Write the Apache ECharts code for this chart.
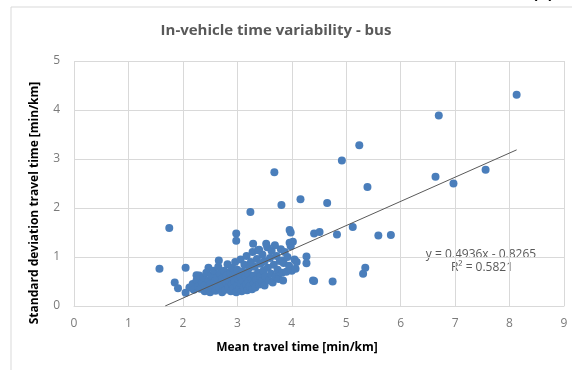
<!DOCTYPE html>
<html>
<head>
<meta charset="utf-8">
<script src="https://cdn.jsdelivr.net/npm/echarts@6/dist/echarts.min.js"></script>
<style>
  html, body { margin: 0; padding: 0; background: #fff; }
  #chart { width: 572px; height: 370px; }
</style>
</head>
<body>
<div id="chart"></div>
<script>
// mean travel time [min/km] vs standard deviation [min/km]

// scattered points left of the main cloud
var lowPoints = [
    [1.57, 0.76], [1.75, 1.59], [1.85, 0.48], [1.91, 0.36], [2.05, 0.27], [2.05, 0.78],
    [2.25, 0.63], [2.47, 0.78], [2.66, 0.93], [2.82, 0.85]
];

// main cloud (x 2.1 - 4.1)
var clusterPoints = [
    [2.12, 0.38], [2.18, 0.45], [2.20, 0.33], [2.25, 0.52], [2.28, 0.40], [2.30, 0.62],
    [2.32, 0.35], [2.35, 0.48], [2.38, 0.58], [2.40, 0.30], [2.40, 0.42],
    [2.43, 0.68], [2.45, 0.36], [2.47, 0.52], [2.50, 0.28], [2.50, 0.45], [2.52, 0.62],
    [2.55, 0.38], [2.57, 0.72], [2.58, 0.50], [2.60, 0.31], [2.62, 0.44], [2.63, 0.58],
    [2.65, 0.80], [2.67, 0.36], [2.68, 0.66], [2.70, 0.48],
    [2.72, 0.28], [2.73, 0.56], [2.75, 0.40], [2.76, 0.72], [2.78, 0.33], [2.80, 0.62],
    [2.80, 0.46], [2.84, 0.38], [2.85, 0.52], [2.87, 0.68], [2.88, 0.30], [2.90, 0.44],
    [2.90, 0.78], [2.92, 0.58], [2.93, 0.36], [2.95, 0.50], [2.96, 0.90], [2.97, 0.66],
    [2.98, 0.28], [3.00, 0.42], [3.00, 0.74],
    [3.02, 0.55], [3.03, 0.34], [3.05, 0.62], [3.06, 0.95], [3.07, 0.46], [3.08, 0.30],
    [3.10, 0.70], [3.10, 0.52], [3.12, 0.38], [3.13, 0.84], [3.15, 0.60], [3.16, 0.44],
    [3.17, 1.02], [3.18, 0.32], [3.20, 0.66], [3.20, 0.50], [3.22, 0.78], [3.23, 0.40],
    [3.25, 0.90], [3.26, 0.56], [3.27, 0.34], [3.28, 1.10], [3.30, 0.62], [3.30, 0.46],
    [3.32, 0.80], [3.33, 0.38], [3.35, 0.54], [3.36, 0.96], [3.38, 0.68], [3.40, 0.44],
    [3.40, 1.15], [3.42, 0.60], [3.43, 0.86], [3.45, 0.50], [3.46, 1.05], [3.48, 0.72],
    [3.50, 0.42], [3.50, 0.92], [3.52, 0.60], [3.55, 1.20], [3.56, 0.78], [3.58, 0.52],
    [3.60, 0.98], [3.62, 0.66], [3.63, 1.12], [3.65, 0.48], [3.67, 0.84], [3.70, 0.60],
    [3.72, 1.02], [3.74, 0.74], [3.76, 0.55], [3.78, 0.92], [3.80, 1.16], [3.82, 0.68],
    [3.83, 0.93], [3.84, 0.52], [3.85, 0.88], [3.87, 1.10], [3.90, 0.70], [3.92, 1.00],
    [3.95, 0.82], [3.98, 1.22], [4.00, 0.72], [4.05, 0.95], [4.07, 0.76], [4.09, 0.90]
];

// points above / right of the cloud
var upperPoints = [
    [2.98, 1.48], [2.98, 1.33], [3.24, 1.92], [3.29, 1.27], [3.38, 1.14], [3.53, 1.27],
    [3.69, 1.24], [3.68, 2.73], [3.81, 2.06], [3.96, 1.55], [3.98, 1.50], [3.96, 1.29],
    [4.02, 1.31], [4.16, 2.18], [4.27, 1.01], [4.27, 0.87], [4.39, 0.52], [4.41, 0.51],
    [4.41, 1.48], [4.51, 1.51], [4.65, 2.10], [4.75, 0.50], [4.83, 1.46], [4.92, 2.97],
    [5.12, 1.61], [5.24, 3.28], [5.31, 0.66], [5.35, 0.78], [5.39, 2.43], [5.59, 1.44],
    [5.82, 1.45], [6.64, 2.64], [6.70, 3.89], [6.97, 2.50], [7.56, 2.78], [8.13, 4.31]
];

// linear trend as printed on the chart
var slope = 0.4936;
var intercept = -0.8265;
var rSquared = 0.5821;

var xTicks = [0, 1, 2, 3, 4, 5, 6, 7, 8, 9];
var yTicks = [0, 1, 2, 3, 4, 5];

var allPoints = lowPoints.concat(clusterPoints, upperPoints);
var maxX = Math.max.apply(null, allPoints.map(function (p) { return p[0]; }));
var startX = -intercept / slope;   // trend line is clipped at y = 0
var trendLine = [[startX, 0], [maxX, slope * maxX + intercept]];

var chart = echarts.init(document.getElementById('chart'));

var option = {
    animation: false,
    title: {
        text: 'In-vehicle time variability - bus',
        left: 271,
        top: 18,
        textAlign: 'center',
        textStyle: {
            fontFamily: 'Open Sans',
            fontSize: 15,
            fontWeight: 'bold',
            color: '#595959'
        }
    },
    grid: {
        left: 74,
        right: 8,
        top: 61,
        bottom: 64
    },
    xAxis: {
        type: 'value',
        min: xTicks[0],
        max: xTicks[xTicks.length - 1],
        interval: 1,
        axisLine: { show: true, lineStyle: { color: '#d9d9d9', width: 1 } },
        axisTick: { show: false },
        axisLabel: { margin: 12, color: '#7a7a7a', fontFamily: 'Open Sans', fontSize: 12 },
        splitLine: { show: true, lineStyle: { color: '#d9d9d9', width: 1 } }
    },
    yAxis: {
        type: 'value',
        min: yTicks[0],
        max: yTicks[yTicks.length - 1],
        interval: 1,
        axisLine: { show: false },
        axisTick: { show: false },
        axisLabel: { margin: 14, color: '#7a7a7a', fontFamily: 'Open Sans', fontSize: 12 },
        splitLine: { show: true, lineStyle: { color: '#d9d9d9', width: 1 } }
    },
    graphic: [
        {
            type: 'rect',
            silent: true,
            shape: { x: 11, y: 7, width: 700, height: 500 },
            style: { fill: 'none', stroke: '#d9d9d9', lineWidth: 1 }
        },
        {
            type: 'text',
            x: 543, y: 2,
            style: {
                text: '(b)', align: 'center', verticalAlign: 'bottom',
                fontFamily: 'Open Sans', fontSize: 16, fontWeight: 'bold', fill: '#000'
            }
        },
        {
            type: 'text',
            x: 297, y: 348,
            style: {
                text: 'Mean travel time [min/km]', align: 'center', verticalAlign: 'middle',
                fontFamily: 'Open Sans', fontSize: 12, fontWeight: 'bold', fill: '#000'
            }
        },
        {
            type: 'text',
            x: 35, y: 203,
            rotation: Math.PI / 2,
            style: {
                text: 'Standard deviation travel time [min/km]', align: 'center', verticalAlign: 'middle',
                fontFamily: 'Open Sans', fontSize: 12, fontWeight: 'bold', fill: '#000'
            }
        },
        {
            type: 'text',
            x: 481, y: 255,
            style: {
                text: 'y = ' + slope + 'x - ' + Math.abs(intercept), align: 'center', verticalAlign: 'middle',
                fontFamily: 'Open Sans', fontSize: 12, fill: '#595959'
            }
        },
        {
            type: 'text',
            x: 482, y: 268,
            style: {
                text: 'R² = ' + rSquared, align: 'center', verticalAlign: 'middle',
                fontFamily: 'Open Sans', fontSize: 12, fill: '#595959'
            }
        }
    ],
    series: [
        {
            name: 'bus',
            type: 'scatter',
            symbolSize: 8,
            itemStyle: { color: '#4a7ebb', opacity: 1 },
            data: allPoints
        },
        {
            name: 'trend',
            type: 'line',
            silent: true,
            showSymbol: false,
            symbol: 'none',
            lineStyle: { color: '#595959', width: 1 },
            data: trendLine,
            z: 3
        }
    ]
};

chart.setOption(option);
</script>
</body>
</html>
